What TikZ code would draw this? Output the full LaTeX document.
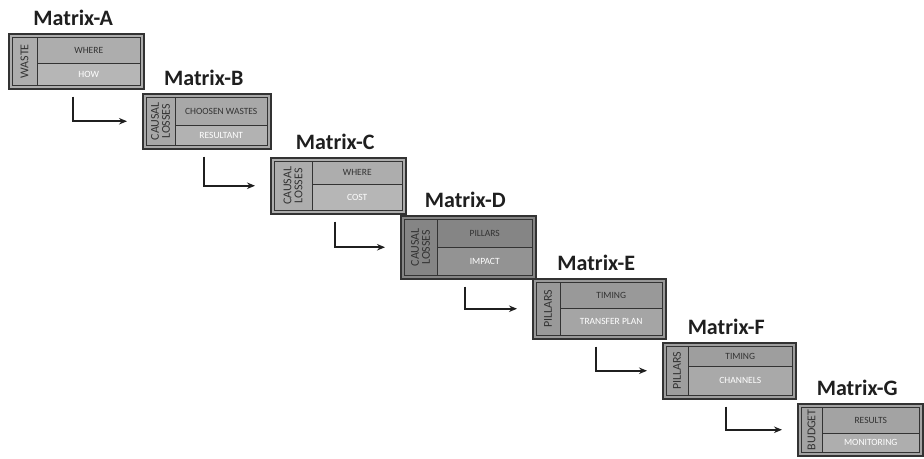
\documentclass[tikz,border=0pt]{standalone}
\usepackage{fontspec}
\setmainfont{Carlito}
\usetikzlibrary{arrows.meta,calc}

\definecolor{frameline}{HTML}{333333}
\definecolor{uppertext}{HTML}{333333}

\tikzset{
  mtxframe/.style={draw=frameline, line width=1.5pt, fill=#1,
    minimum width=135pt, minimum height=56pt, inner sep=0pt},
  mtxframe/.default={black!33},
  mtxline/.style={draw=frameline, line width=1pt},
  sidetxt/.style={rotate=90, font=\fontsize{12}{11}\selectfont, text=frameline,
    align=center, inner sep=0pt},
  uptxt/.style={font=\fontsize{9.5}{10}\selectfont, text=uppertext, inner sep=0pt},
  lowtxt/.style={font=\fontsize{9.5}{10}\selectfont, text=white, inner sep=0pt},
  mtxtitle/.style={font=\fontsize{22}{24}\selectfont\bfseries, text=black!88, anchor=base, inner sep=0pt},
  flow/.style={draw=black!88, line width=1.9pt, -{Stealth[length=8pt,width=6.5pt]}},
}

% #1 frame options, #2 letter, #3 top-left corner, #4 side column width,
% #5 depth of the row divider, #6 side text, #7 upper text, #8 lower text
\newcommand{\mtxbox}[8]{%
  \node[mtxframe,#1,anchor=north west] (m#2) at (#3) {};
  \fill[white,opacity=0.12] ([shift={(#4pt,-#5pt)}]m#2.north west)
    rectangle ([shift={(-4pt,4pt)}]m#2.south east);
  \draw[mtxline] ([shift={(4pt,-4pt)}]m#2.north west)
    rectangle ([shift={(-4pt,4pt)}]m#2.south east);
  \draw[mtxline] ([shift={(#4pt,-4pt)}]m#2.north west)
    -- ([shift={(#4pt,4pt)}]m#2.south west);
  \draw[mtxline] ([shift={(#4pt,-#5pt)}]m#2.north west)
    -- ([shift={(-4pt,-#5pt)}]m#2.north east);
  \node[sidetxt] (m#2-side) at ([xshift={(#4+4)/2*1pt}]m#2.west) {#6};
  \node[uptxt] (m#2-up) at ($([shift={(#4pt,-4pt)}]m#2.north west)!0.5!([shift={(-4pt,-#5pt)}]m#2.north east)$) {#7};
  \node[lowtxt] (m#2-low) at ($([shift={(#4pt,-#5pt)}]m#2.north west)!0.5!([shift={(-4pt,4pt)}]m#2.south east)$) {#8};
  \node[mtxtitle] (m#2-title) at ([xshift=-3pt,yshift=8pt]m#2.north) {Matrix-#2};
}

\begin{document}
\begin{tikzpicture}[x=1pt,y=-1pt]
  \useasboundingbox[fill=white] (0,0) rectangle (924,458);

  \mtxbox{mtxframe=black!32, minimum height=55pt}{A}{8,33}{29}{30}{WASTE}{WHERE}{HOW}
  \mtxbox{mtxframe=black!34, minimum width=128pt, minimum height=55pt}{B}{142,93}{33}{32}{CAUSAL\\LOSSES}{CHOOSEN WASTES}{RESULTANT}
  \mtxbox{mtxframe=black!32}{C}{270,157}{42}{27}{CAUSAL\\LOSSES}{WHERE}{COST}
  \mtxbox{mtxframe=black!48, minimum height=63pt}{D}{400,215}{37}{32}{CAUSAL\\LOSSES}{PILLARS}{IMPACT}
  \mtxbox{mtxframe=black!40, minimum width=133pt, minimum height=60pt}{E}{532,278}{28}{30}{PILLARS}{TIMING}{TRANSFER PLAN}
  \mtxbox{mtxframe=black!38, minimum width=133pt}{F}{662,342}{26}{24}{PILLARS}{TIMING}{CHANNELS}
  \mtxbox{mtxframe=black!36, minimum width=125pt, minimum height=52pt}{G}{797,403}{25}{30}{BUDGET}{RESULTS}{MONITORING}

  \foreach \a/\b in {A/B,B/C,C/D,D/E,E/F,F/G}{
    \draw[flow] ([shift={(-3pt,-7pt)}]m\a.south) |- ([xshift=-15pt]m\b.west);
  }
\end{tikzpicture}
\end{document}
